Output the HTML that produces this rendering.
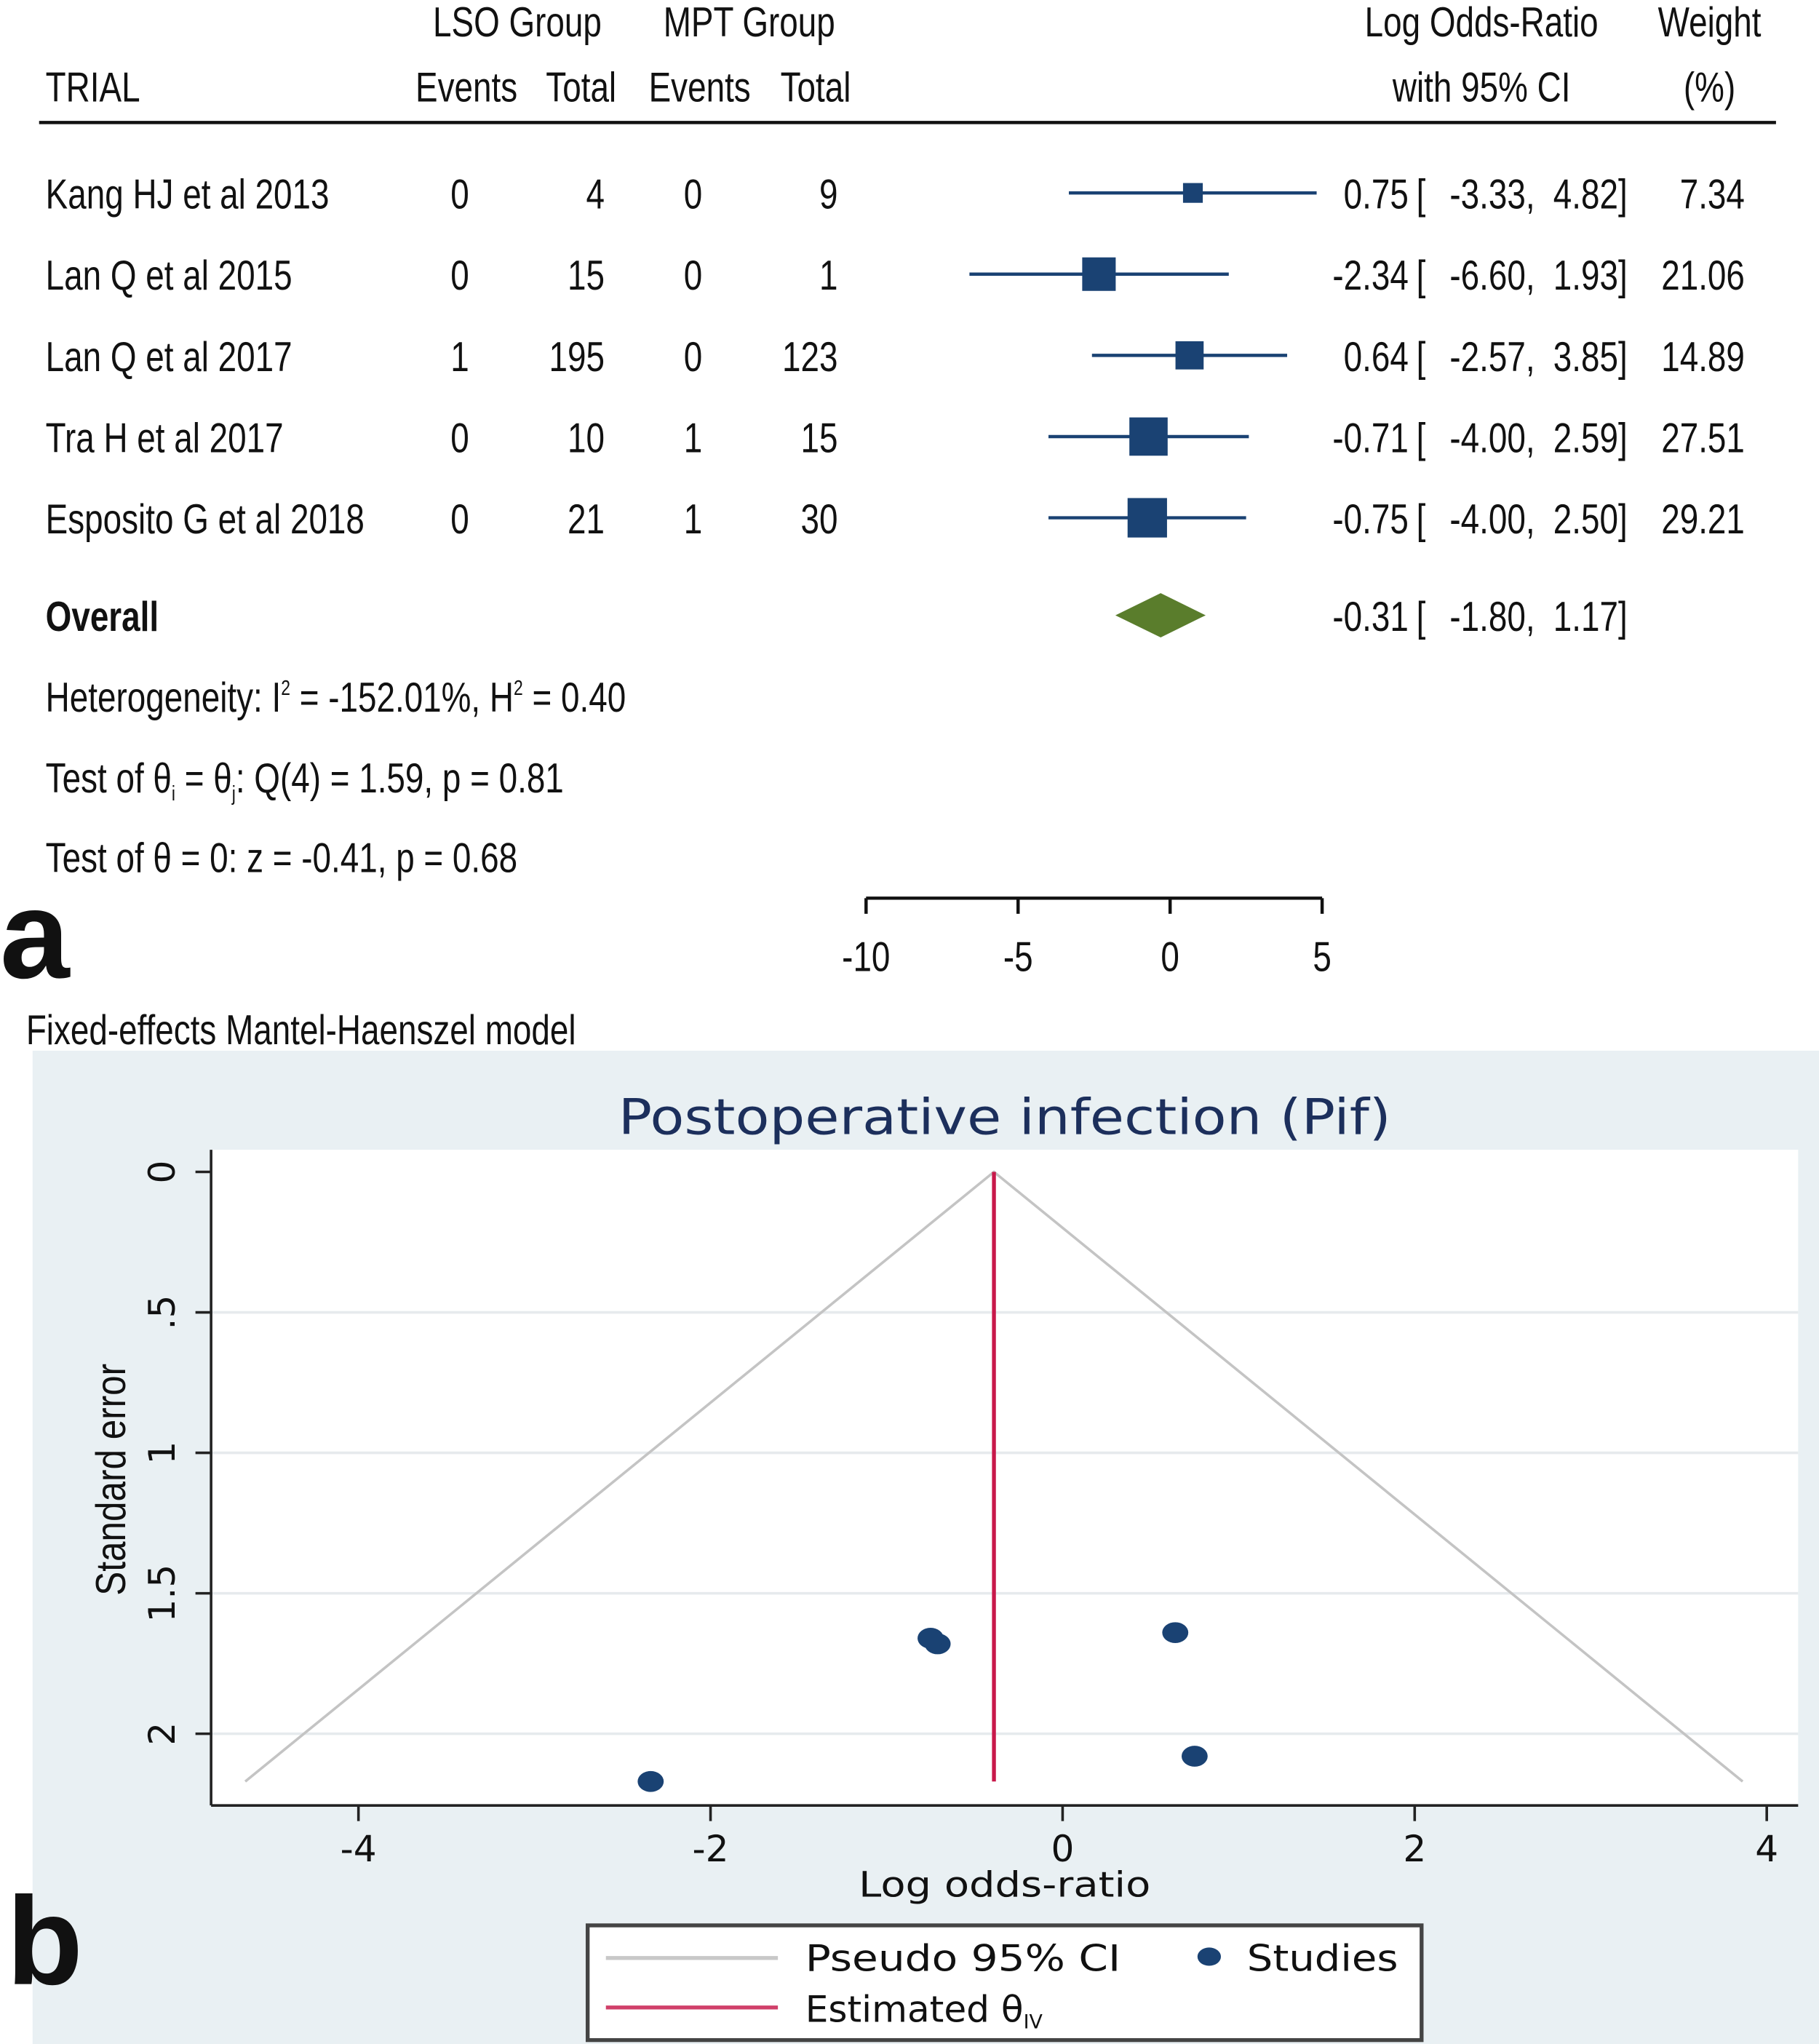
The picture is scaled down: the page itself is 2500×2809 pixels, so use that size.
<!DOCTYPE html>
<html><head><meta charset="utf-8"><style>
html,body{margin:0;padding:0;background:#fff}
svg{display:block}
.n{font-family:"Liberation Sans",sans-serif;fill:#111}
.w{font-family:"Liberation Sans",sans-serif;fill:#111}
.d{font-family:"DejaVu Sans","Liberation Sans",sans-serif;fill:#111}
</style></head><body>
<svg id="fig" xmlns="http://www.w3.org/2000/svg" width="2500" height="2809" viewBox="0 0 1396 1568" preserveAspectRatio="none">
<g id="forest">
<g class="n" font-size="32">
<text x="397" y="28" text-anchor="middle">LSO Group</text>
<text x="575" y="28" text-anchor="middle">MPT Group</text>
<text x="35" y="78">TRIAL</text>
<text x="358" y="78" text-anchor="middle">Events</text>
<text x="446" y="78" text-anchor="middle">Total</text>
<text x="537" y="78" text-anchor="middle">Events</text>
<text x="626" y="78" text-anchor="middle">Total</text>
<text x="1137" y="28" text-anchor="middle">Log Odds-Ratio</text>
<text x="1137" y="78" text-anchor="middle">with 95% CI</text>
<text x="1312" y="28" text-anchor="middle">Weight</text>
<text x="1312" y="78" text-anchor="middle">(%)</text>
</g>
<line x1="30" y1="94" x2="1363" y2="94" stroke="#111" stroke-width="2.5"/>
<g id="rows"></g>
<g class="n" font-size="32">
<text x="35" y="546">Heterogeneity: I<tspan dy="-13" font-size="16">2</tspan><tspan dy="13"> = -152.01%, H</tspan><tspan dy="-13" font-size="16">2</tspan><tspan dy="13"> = 0.40</tspan></text>
<text x="35" y="608">Test of θ<tspan dy="6" font-size="16">i</tspan><tspan dy="-6"> = θ</tspan><tspan dy="6" font-size="16">j</tspan><tspan dy="-6">: Q(4) = 1.59, p = 0.81</tspan></text>
<text x="35" y="669">Test of θ = 0: z = -0.41, p = 0.68</text>
</g>
<g id="faxis"></g>
<text x="0" y="750" class="w" font-size="96" font-weight="bold">a</text>
<text x="20" y="801" class="n" font-size="32">Fixed-effects Mantel-Haenszel model</text>
</g>
<g>
<rect x="25" y="806" width="1371" height="762" fill="#e9f0f3"/>
<rect x="162" y="882" width="1218" height="503" fill="#fff"/>
<text x="771" y="870" text-anchor="middle" class="d" font-size="38" textLength="593" lengthAdjust="spacingAndGlyphs" style="fill:#1c2f5c">Postoperative infection (Pif)</text>
<g id="funnel"></g>
<text x="771" y="1455" text-anchor="middle" class="d" font-size="27" textLength="224" lengthAdjust="spacingAndGlyphs">Log odds-ratio</text>
<text id="ytitle" transform="translate(96,1135) rotate(-90)" text-anchor="middle" class="w" font-size="32" textLength="178" lengthAdjust="spacingAndGlyphs">Standard error</text>
<text x="5" y="1522" class="w" font-size="96" font-weight="bold">b</text>
<g>
<rect x="451" y="1477" width="640" height="88" fill="#fff" stroke="#444" stroke-width="3"/>
<line x1="465" y1="1502" x2="597" y2="1502" stroke="#c8c8c8" stroke-width="3"/>
<text x="618" y="1512" class="d" font-size="28" textLength="242" lengthAdjust="spacingAndGlyphs">Pseudo 95% CI</text>
<ellipse cx="928" cy="1501" rx="9" ry="7" fill="#1a4273"/>
<text x="957" y="1512" class="d" font-size="28" textLength="116" lengthAdjust="spacingAndGlyphs">Studies</text>
<line x1="465" y1="1540" x2="597" y2="1540" stroke="#d0406a" stroke-width="3"/>
<text x="618" y="1551" class="d" font-size="28">Estimated θ<tspan dy="5" font-size="15">IV</tspan></text>
</g>
</g>
</svg>
<script>
const trials=["Kang HJ et al 2013","Lan Q et al 2015","Lan Q et al 2017","Tra H et al 2017","Esposito G et al 2018"];
const lsoEvents=[0,0,1,0,0];
const lsoTotal=[4,15,195,10,21];
const mptEvents=[0,0,0,1,1];
const mptTotal=[9,1,123,15,30];
const logOR=[0.75,-2.34,0.64,-0.71,-0.75];
const ciLow=[-3.33,-6.60,-2.57,-4.00,-4.00];
const ciHigh=[4.82,1.93,3.85,2.59,2.50];
const weights=[7.34,21.06,14.89,27.51,29.21];
const overall=[-0.31,-1.80,1.17];
const forestTicks=[-10,-5,0,5];
const funnelSE=[2.08,2.17,1.64,1.68,1.66];
const funnelTheta=-0.39;
const funnelXTicks=[-4,-2,0,2,4];
const funnelYTicks=[0,0.5,1,1.5,2];
const funnelYLabels=["0",".5","1","1.5","2"];
const seMax=2.17;

const NS="http://www.w3.org/2000/svg";
function mk(p,tag,attrs,txt){const e=document.createElementNS(NS,tag);for(const k in attrs)e.setAttribute(k,attrs[k]);if(txt!==undefined)e.textContent=txt;p.appendChild(e);return e;}
const fx=v=>898+v*(350/15);
const f2=v=>v.toFixed(2);
const rows=document.getElementById('rows');
const rowY=i=>148+i*62.3;
trials.forEach((t,i)=>{
  const y=rowY(i);const g=mk(rows,'g',{class:'n','font-size':32});
  
  
  const b=y+12;
  mk(g,'text',{x:35,y:b},t);
  mk(g,'text',{x:360,y:b,'text-anchor':'end'},lsoEvents[i]);
  mk(g,'text',{x:464,y:b,'text-anchor':'end'},lsoTotal[i]);
  mk(g,'text',{x:539,y:b,'text-anchor':'end'},mptEvents[i]);
  mk(g,'text',{x:643,y:b,'text-anchor':'end'},mptTotal[i]);
  const ci=mk(g,'line',{x1:fx(ciLow[i]),x2:fx(ciHigh[i]),y1:y,y2:y,stroke:'#1a4273','stroke-width':2.5});
  
  
  const s=Math.sqrt(weights[i])*5.6;
  const sq=mk(g,'rect',{x:fx(logOR[i])-s/2,y:y-s/2,width:s,height:s,fill:'#1a4273'});
  
  
  mk(g,'text',{x:1081,y:b,'text-anchor':'end'},f2(logOR[i]));
  mk(g,'text',{x:1087,y:b},'[');
  mk(g,'text',{x:1178,y:b,'text-anchor':'end'},f2(ciLow[i])+',');
  mk(g,'text',{x:1249,y:b,'text-anchor':'end'},f2(ciHigh[i])+']');
  mk(g,'text',{x:1339,y:b,'text-anchor':'end'},f2(weights[i]));
});
{
 const y=472,g=mk(rows,'g',{class:'n','font-size':32});
 
 
 mk(g,'text',{x:35,y:y+12,'font-weight':'bold'},'Overall');
 const d=mk(g,'polygon',{points:`${fx(overall[1])},${y} ${fx(overall[0])},${y-17} ${fx(overall[2])},${y} ${fx(overall[0])},${y+17}`,fill:'#5a7d2c'});
 
 
 mk(g,'text',{x:1081,y:y+12,'text-anchor':'end'},f2(overall[0]));
 mk(g,'text',{x:1087,y:y+12},'[');
 mk(g,'text',{x:1178,y:y+12,'text-anchor':'end'},f2(overall[1])+',');
 mk(g,'text',{x:1249,y:y+12,'text-anchor':'end'},f2(overall[2])+']');
}
const fa=document.getElementById('faxis');
mk(fa,'line',{x1:fx(forestTicks[0]),x2:fx(forestTicks[forestTicks.length-1]),y1:689,y2:689,stroke:'#111','stroke-width':2.5});
forestTicks.forEach(t=>{
  mk(fa,'line',{x1:fx(t),x2:fx(t),y1:689,y2:701,stroke:'#111','stroke-width':2.5});
  const l=mk(fa,'text',{x:fx(t),y:745,'text-anchor':'middle',class:'n','font-size':32},t);
  
  
});
const fn=document.getElementById('funnel');
const px=v=>815.5+v*135.1, py=v=>899+v*215.5;
funnelYTicks.forEach((t,i)=>{
  if(t>0){const gl=mk(fn,'line',{x1:162,x2:1380,y1:py(t),y2:py(t),stroke:'#e6eaed','stroke-width':2});
  
  }
  mk(fn,'line',{x1:150,x2:162,y1:py(t),y2:py(t),stroke:'#222','stroke-width':2});
  const l=mk(fn,'text',{transform:`translate(134,${py(t)}) rotate(-90)`,'text-anchor':'middle',class:'d','font-size':28},funnelYLabels[i]);
  
  
});
mk(fn,'line',{x1:162,x2:162,y1:882,y2:1385,stroke:'#222','stroke-width':2});
mk(fn,'line',{x1:162,x2:1380,y1:1385,y2:1385,stroke:'#222','stroke-width':2});
funnelXTicks.forEach(t=>{
  mk(fn,'line',{x1:px(t),x2:px(t),y1:1385,y2:1397,stroke:'#222','stroke-width':2});
  const l=mk(fn,'text',{x:px(t),y:1428,'text-anchor':'middle',class:'d','font-size':28},t);
  
  
});
const fl=mk(fn,'polyline',{points:`${px(funnelTheta-1.96*seMax)},${py(seMax)} ${px(funnelTheta)},${py(0)} ${px(funnelTheta+1.96*seMax)},${py(seMax)}`,fill:'none',stroke:'#c4c4c4','stroke-width':2});


const rl=mk(fn,'line',{x1:px(funnelTheta),x2:px(funnelTheta),y1:py(0),y2:py(seMax),stroke:'#c8184a','stroke-width':3});


logOR.forEach((v,i)=>{
  const c=mk(fn,'ellipse',{cx:px(v),cy:py(funnelSE[i]),rx:10,ry:8,fill:'#1a4273'});
  
  
});
// condense narrow-font text horizontally around its anchor x
const SX=0.8;
document.querySelectorAll('#forest text').forEach(t=>{
  if(t.getAttribute('font-size')==='96')return;
  const x=parseFloat(t.getAttribute('x'));
  t.setAttribute('transform',`translate(${x} 0) scale(${SX} 1) translate(${-x} 0)`);
});
</script>
</body></html>
